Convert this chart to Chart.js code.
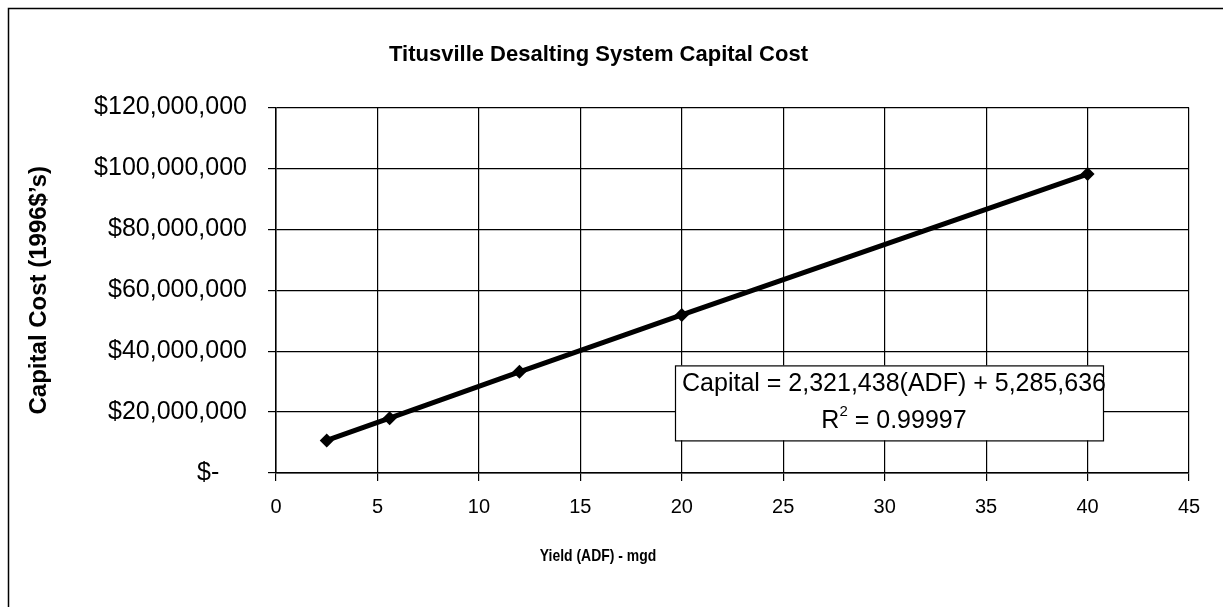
<!DOCTYPE html>
<html>
<head>
<meta charset="utf-8">
<script src="https://cdn.jsdelivr.net/npm/chart.js@4/dist/chart.umd.min.js"></script>
<style>
    html, body { margin: 0; padding: 0; background: #fff; }
    #chart { display: block; }
</style>
</head>
<body>
<canvas id="chart" width="1223" height="607"></canvas>
<script>
    // values
    const yieldMgd = [2.5, 5.6, 12, 20, 40];
    const capitalCost = [10700000, 18000000, 33200000, 51900000, 98100000];
    const xTicks = [0, 5, 10, 15, 20, 25, 30, 35, 40, 45];
    const yTicks = [0, 20000000, 40000000, 60000000, 80000000, 100000000, 120000000];
    const fitLines = ["Capital = 2,321,438(ADF) + 5,285,636", "0.99997"];
    const xTitle = "Yield (ADF) - mgd";

    const sans = "'Liberation Sans', Arial, Helvetica, sans-serif";

    const points = yieldMgd.map((x, i) => ({ x: x, y: capitalCost[i] }));

    // page frame + white background
    const framePlugin = {
        id: "frame",
        beforeDraw(chart) {
            const ctx = chart.ctx;
            ctx.save();
            ctx.fillStyle = "#fff";
            ctx.fillRect(0, 0, chart.width, chart.height);
            ctx.strokeStyle = "#000";
            ctx.lineWidth = 1.5;
            ctx.beginPath();
            ctx.moveTo(8.5, chart.height);
            ctx.lineTo(8.5, 8.5);
            ctx.lineTo(chart.width, 8.5);
            ctx.stroke();
            ctx.restore();
        },
        // x title sits centred on the whole chart, not on the plot area (condensed face)
        afterDraw(chart) {
            const ctx = chart.ctx;
            ctx.save();
            ctx.fillStyle = "#000";
            ctx.font = "bold 17px " + sans;
            ctx.textAlign = "center";
            ctx.textBaseline = "middle";
            ctx.translate(598, 556);
            ctx.scale(0.82, 1);
            ctx.fillText(xTitle, 0, 0);
            ctx.restore();
        }
    };

    // regression label box
    const fitLabel = {
        id: "fitLabel",
        afterDatasetsDraw(chart) {
            const { ctx, chartArea: a } = chart;
            const left = a.left + 399, top = a.top + 258, w = 428, h = 75;
            ctx.save();
            ctx.fillStyle = "#fff";
            ctx.fillRect(left, top, w, h);
            ctx.strokeStyle = "#000";
            ctx.lineWidth = 1.2;
            ctx.strokeRect(left + 0.5, top + 0.5, w, h);
            ctx.fillStyle = "#000";
            ctx.textBaseline = "middle";
            ctx.font = "25px " + sans;
            ctx.textAlign = "center";
            const cx = left + w / 2 + 5;
            ctx.fillText(fitLines[0], cx, top + 19);
            // R² = ...
            const rest = " = " + fitLines[1];
            const wR = ctx.measureText("R").width;
            const wRest = ctx.measureText(rest).width;
            ctx.font = "15px " + sans;
            const w2 = ctx.measureText("2").width;
            const x = cx - (wR + w2 + wRest) / 2;
            ctx.textAlign = "left";
            ctx.font = "25px " + sans;
            ctx.fillText("R", x, top + 56);
            ctx.font = "15px " + sans;
            ctx.fillText("2", x + wR, top + 46);
            ctx.font = "25px " + sans;
            ctx.fillText(rest, x + wR + w2, top + 56);
            ctx.restore();
        }
    };

    new Chart(document.getElementById("chart"), {
        type: "scatter",
        data: {
            datasets: [{
                label: "Capital cost",
                data: points,
                showLine: true,
                borderColor: "#000",
                backgroundColor: "#000",
                borderWidth: 5,
                pointStyle: "rectRot",
                pointRadius: 7,
                pointBorderWidth: 0
            }]
        },
        options: {
            responsive: false,
            animation: false,
            layout: {
                padding: { left: 8, right: 34, top: 0, bottom: 0 }
            },
            plugins: {
                legend: { display: false },
                tooltip: { enabled: false },
                title: {
                    display: true,
                    text: "Titusville Desalting System Capital Cost",
                    color: "#000",
                    font: { family: sans, size: 22, weight: "bold" },
                    padding: { top: 42, bottom: 39 }
                }
            },
            scales: {
                x: {
                    type: "linear",
                    min: 0,
                    max: 45,
                    afterBuildTicks: axis => { axis.ticks = xTicks.map(v => ({ value: v })); },
                    afterFit: axis => { axis.height = 134; },
                    grid: { color: "#000", lineWidth: 1.2, tickLength: 8 },
                    border: { color: "#000", width: 1.5 },
                    ticks: {
                        color: "#000",
                        padding: 14,
                        maxRotation: 0,
                        font: { family: sans, size: 20 }
                    }
                },
                y: {
                    type: "linear",
                    min: 0,
                    max: 120000000,
                    afterBuildTicks: axis => { axis.ticks = yTicks.map(v => ({ value: v })); },
                    afterFit: axis => { axis.width = 268; },
                    grid: { color: "#000", lineWidth: 1.2, tickLength: 8 },
                    border: { color: "#000", width: 1.5 },
                    ticks: {
                        color: "#000",
                        padding: 21,
                        font: { family: sans, size: 25 },
                        callback: v => v === 0 ? "$-    " : "$" + v.toLocaleString("en-US")
                    },
                    title: {
                        display: true,
                        text: "Capital Cost (1996$\u2019s)",
                        color: "#000",
                        font: { family: sans, size: 24, weight: "bold" },
                        padding: { top: 17, bottom: 0 }
                    }
                }
            }
        },
        plugins: [framePlugin, fitLabel]
    });
</script>
</body>
</html>
